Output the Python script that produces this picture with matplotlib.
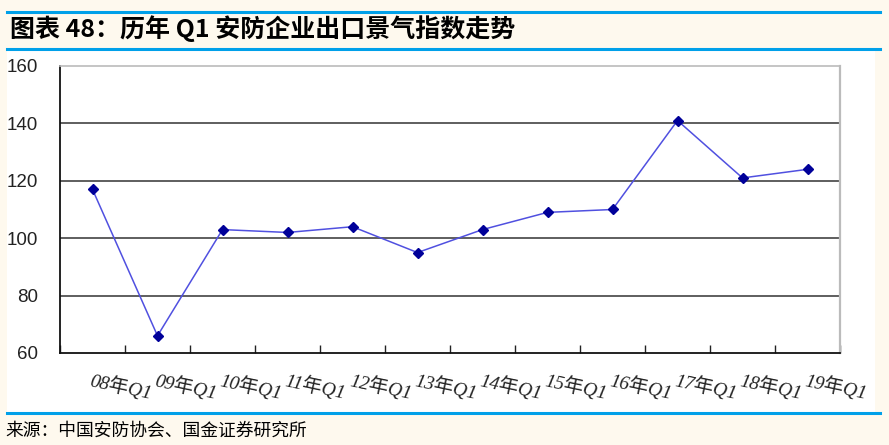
import numpy as np
import matplotlib
matplotlib.use('Agg')
import matplotlib.pyplot as plt
from matplotlib.patches import Rectangle
from matplotlib.lines import Line2D

# Data
categories = ['08年Q1', '09年Q1', '10年Q1', '11年Q1', '12年Q1', '13年Q1',
              '14年Q1', '15年Q1', '16年Q1', '17年Q1', '18年Q1', '19年Q1']
index_values = [117, 66, 103, 102, 104, 95, 103, 109, 110, 141, 121, 124]
y_ticks = [60, 80, 100, 120, 140, 160]

title = '图表 48：历年 Q1 安防企业出口景气指数走势'
source = '来源：中国安防协会、国金证券研究所'

W, H = 889, 445
bg = '#FEF9EE'
blue_rule = '#00A0E9'

fig = plt.figure(figsize=(W / 100, H / 100), dpi=100, facecolor=bg)

# white panel behind the chart
fig.patches.append(Rectangle((7 / W, 1 - 412 / H), (875 - 7) / W, (412 - 50) / H,
                             transform=fig.transFigure, facecolor='white',
                             edgecolor='none', zorder=-5))

# blue rules
for yp in (12, 49, 413):
    fig.lines.append(Line2D([7 / W, 880 / W], [1 - yp / H, 1 - yp / H],
                            transform=fig.transFigure, color=blue_rule, lw=2.2))

fig.text(10 / W, 1 - 29 / H, title, fontsize=18, fontweight='bold',
         family=['Noto Sans CJK SC', 'DejaVu Sans'], va='center', ha='left')
fig.text(5 / W, 1 - 431 / H, source, fontsize=12.8,
         family=['Noto Sans CJK SC', 'DejaVu Sans'], va='center', ha='left')

ax = fig.add_axes([60 / W, 1 - 353 / H, (840 - 60) / W, (353 - 66) / H])
ax.set_zorder(2)
ax.set_facecolor('white')

x = np.arange(len(categories))
ax.plot(x, index_values, color='#5050E0', lw=1.1, marker='D', markersize=5.5,
        markerfacecolor='#000099', markeredgecolor='#000099', zorder=3)

ax.set_xlim(-0.5, len(categories) - 0.5)
ax.set_ylim(60, 160)

ax.set_yticks(y_ticks)
ax.set_yticklabels([str(v) for v in y_ticks], fontsize=13.5,
                   family=['Liberation Sans', 'DejaVu Sans'], color='#222222')
ax.tick_params(axis='y', length=0, pad=16)
for v in y_ticks[1:-1]:
    ax.axhline(v, color='#333333', lw=1.1, zorder=1)

# boundaries as major ticks, labels on minor ticks at category centres
ax.set_xticks(np.arange(len(categories) + 1) - 0.5)
ax.set_xticklabels([])
ax.tick_params(axis='x', which='major', direction='in', length=6, width=1,
               color='#222222')
ax.set_xticks(x, minor=True)
ax.set_xticklabels(categories, minor=True, rotation=-12, ha='left',
                   rotation_mode='anchor', fontsize=14, style='italic',
                   family=['Liberation Serif', 'Noto Sans CJK SC'],
                   color='#222222')
ax.tick_params(axis='x', which='minor', length=0, pad=13)

ax.spines['left'].set_color('#111111')
ax.spines['bottom'].set_color('#111111')
ax.spines['left'].set_linewidth(1.3)
ax.spines['bottom'].set_linewidth(1.3)
ax.spines['top'].set_color('#BBBBBB')
ax.spines['right'].set_color('#BBBBBB')
ax.spines['top'].set_linewidth(1.2)
ax.spines['right'].set_linewidth(1.6)

fig.savefig('out.png', dpi=100, facecolor=bg)
